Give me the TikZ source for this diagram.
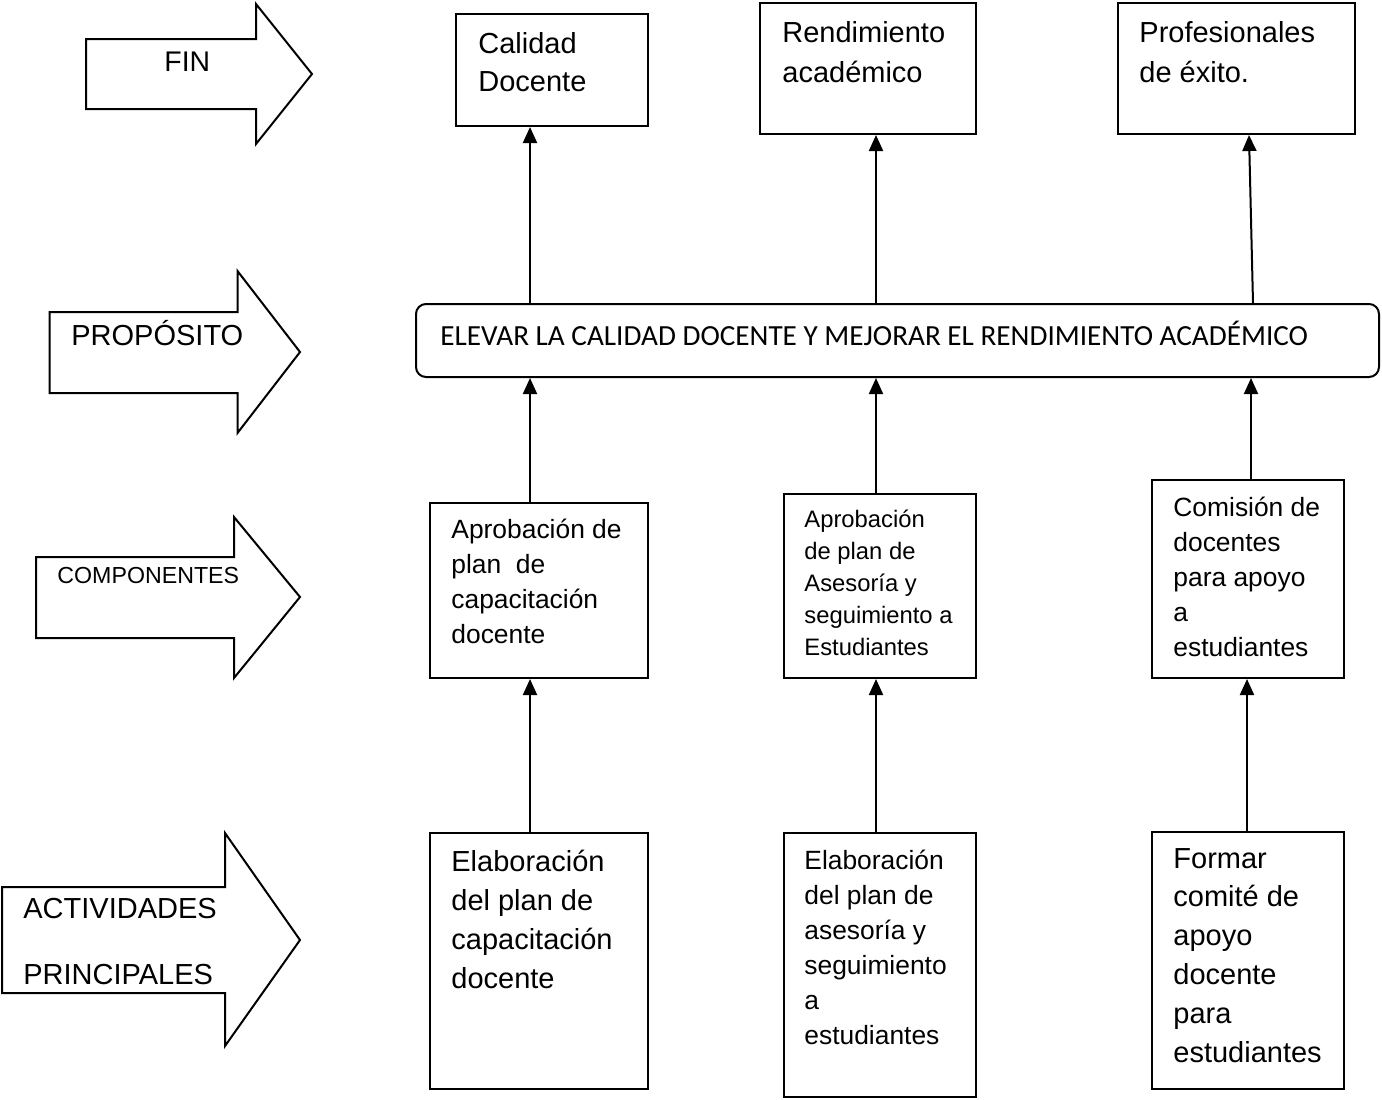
\documentclass[tikz,border=0pt]{standalone}
\usepackage{fontspec}
\setmainfont{Liberation Sans}
\newfontfamily\calib{Carlito}
\usetikzlibrary{arrows.meta,fit}
\newcommand{\ml}[1]{\begin{tabular}[t]{@{}l@{}}#1\end{tabular}}
\begin{document}
\begin{tikzpicture}[x=0.5pt,y=-0.5pt,
  box/.style={draw, line width=1pt, inner sep=0pt, rectangle},
  txt/.style={anchor=base west, inner sep=0pt},
  con/.style={-{Triangle[width=7pt,length=8pt]}, line width=1pt},
  blk/.style={draw, line width=1pt, line join=miter}]
\useasboundingbox (0,0) rectangle (1382,1099);
% block arrows
\draw[blk] (86,39) -- (256,39) -- (256,4) -- (312,74) -- (256,144) -- (256,109) -- (86,109) -- cycle;
\draw[blk] (49.5,312) -- (237.5,312) -- (237.5,271) -- (300,352) -- (237.5,433) -- (237.5,393) -- (49.5,393) -- cycle;
\draw[blk] (36,557) -- (234,557) -- (234,517) -- (300,597) -- (234,678) -- (234,638) -- (36,638) -- cycle;
\draw[blk] (2,887) -- (225,887) -- (225,833) -- (300,940) -- (225,1046) -- (225,993) -- (2,993) -- cycle;
\node[txt, font=\fontsize{14.2}{19}\selectfont] (lfin) at (164,71) {FIN};
\node[txt, font=\fontsize{14.5}{19}\selectfont] (lprop) at (71,345) {PROPÓSITO};
\node[txt, font=\fontsize{11.6}{14}\selectfont] (lcomp) at (57,583) {COMPONENTES};
\node[txt, font=\fontsize{14.5}{33}\selectfont] (lact) at (23,918) {\ml{ACTIVIDADES\\PRINCIPALES}};
% top row
\node[box, fit={(456,14)(648,126)}] (f1) {};
\node[box, fit={(760,3)(976,134)}] (f2) {};
\node[box, fit={(1118,3)(1355,134)}] (f3) {};
\node[txt, font=\fontsize{14.5}{19}\selectfont] (f1t) at (478,53) {\ml{Calidad\\Docente}};
\node[txt, font=\fontsize{14.5}{20}\selectfont] (f2t) at (782,42) {\ml{Rendimiento\\académico}};
\node[txt, font=\fontsize{14.5}{20}\selectfont] (f3t) at (1139,42) {\ml{Profesionales\\de éxito.}};
% purpose
\node[draw, line width=1pt, rounded corners=5pt, inner sep=0pt, fit={(416,304)(1379,377)}] (e) {};
\node[txt, font=\calib\fontsize{14.6}{18}\selectfont] (et) at (440,345) {ELEVAR LA CALIDAD DOCENTE Y MEJORAR EL RENDIMIENTO ACADÉMICO};
% components
\node[box, fit={(430,503)(648,678)}] (c1) {};
\node[box, fit={(784,494)(976,678)}] (c2) {};
\node[box, fit={(1152,480)(1344,678)}] (c3) {};
\node[txt, font=\fontsize{13.2}{17.5}\selectfont] (c1t) at (451,538) {\ml{Aprobación de\\plan~ de\\capacitación\\docente}};
\node[txt, font=\fontsize{11.9}{16}\selectfont] (c2t) at (804,527) {\ml{Aprobación\\de plan de\\Asesoría y\\seguimiento a\\Estudiantes}};
\node[txt, font=\fontsize{13.2}{17.5}\selectfont] (c3t) at (1173,516) {\ml{Comisión de\\docentes\\para apoyo\\a\\estudiantes}};
% activities
\node[box, fit={(430,833)(648,1089)}] (a1) {};
\node[box, fit={(784,833)(976,1097)}] (a2) {};
\node[box, fit={(1152,832)(1344,1089)}] (a3) {};
\node[txt, font=\fontsize{14.5}{19.5}\selectfont] (a1t) at (451,871) {\ml{Elaboración\\del plan de\\capacitación\\docente}};
\node[txt, font=\fontsize{13.2}{17.5}\selectfont] (a2t) at (804,869) {\ml{Elaboración\\del plan de\\asesoría y\\seguimiento\\a\\estudiantes}};
\node[txt, font=\fontsize{14.5}{19.4}\selectfont] (a3t) at (1173,868) {\ml{Formar\\comité de\\apoyo\\docente\\para\\estudiantes}};
% connectors
\draw[con] (e.north -| 530,0) -- (f1.south -| 530,0);
\draw[con] (e.north -| 876,0) -- (f2.south -| 876,0);
\draw[con] (e.north -| 1253,0) -- (f3.south -| 1249,0);
\draw[con] (c1.north -| 530,0) -- (e.south -| 530,0);
\draw[con] (c2.north -| 876,0) -- (e.south -| 876,0);
\draw[con] (c3.north -| 1251,0) -- (e.south -| 1251,0);
\draw[con] (a1.north -| 530,0) -- (c1.south -| 530,0);
\draw[con] (a2.north -| 876,0) -- (c2.south -| 876,0);
\draw[con] (a3.north -| 1247,0) -- (c3.south -| 1247,0);
\end{tikzpicture}
\end{document}
